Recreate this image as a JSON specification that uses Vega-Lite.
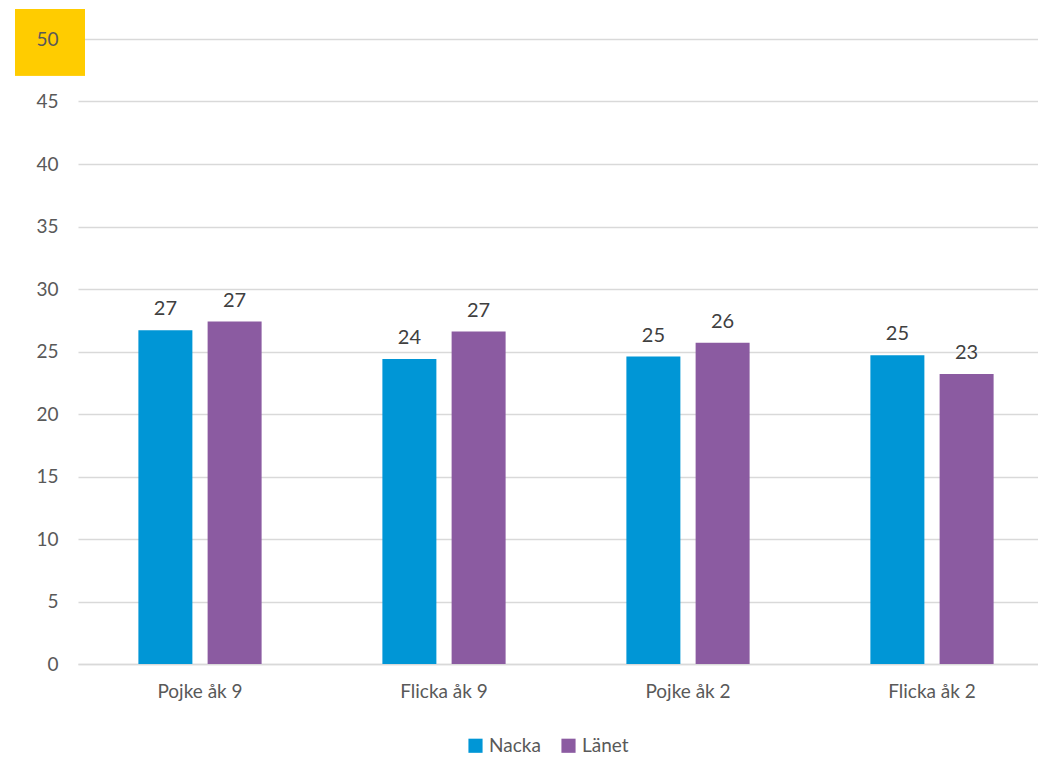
{
  "$schema": "https://vega.github.io/schema/vega-lite/v6.json",
  "width": 976,
  "height": 625,
  "autosize": "none",
  "padding": {"left": 78, "top": 39, "right": -16, "bottom": 95},
  "background": "white",
  "config": {
    "view": {"stroke": null},
    "font": "Lato",
    "axis": {"labelFont": "Lato", "labelFontSize": 19, "labelColor": "#595959", "title": null},
    "legend": {"labelFont": "Lato", "labelFontSize": 19, "labelColor": "#595959"}
  },
  "data": {
    "values": [
      {"grupp": "Pojke åk 9", "serie": "Nacka", "varde": 26.7},
      {"grupp": "Pojke åk 9", "serie": "Länet", "varde": 27.4},
      {"grupp": "Flicka åk 9", "serie": "Nacka", "varde": 24.4},
      {"grupp": "Flicka åk 9", "serie": "Länet", "varde": 26.6},
      {"grupp": "Pojke åk 2", "serie": "Nacka", "varde": 24.6},
      {"grupp": "Pojke åk 2", "serie": "Länet", "varde": 25.7},
      {"grupp": "Flicka åk 2", "serie": "Nacka", "varde": 24.7},
      {"grupp": "Flicka åk 2", "serie": "Länet", "varde": 23.2}
    ]
  },
  "resolve": {"axis": {"y": "independent"}},
  "layer": [
    {
      "mark": {"type": "rect", "color": "#FFCC00", "clip": false},
      "encoding": {
        "y": {"datum": 52.4, "type": "quantitative", "scale": {"domain": [0, 50], "nice": false},
          "axis": {"orient": "left", "grid": false, "ticks": false, "domain": false, "values": [0,5,10,15,20,25,30,35,40,45,50], "labelPadding": 20, "zindex": 1}},
        "y2": {"datum": 47.1},
        "x": {"value": -63},
        "x2": {"value": 7}
      }
    },
    {
      "mark": {"type": "bar"},
      "encoding": {
        "x": {"field": "grupp", "type": "nominal", "sort": null,
          "scale": {"paddingInner": 0.495, "paddingOuter": 0.2475},
          "axis": {"labelAngle": 0, "ticks": false, "domainColor": "#d9d9d9", "domainWidth": 1.5, "labelPadding": 18, "zindex": 0}},
        "xOffset": {"field": "serie", "type": "nominal", "sort": ["Nacka", "Länet"], "scale": {"paddingInner": 0.22, "paddingOuter": 0}},
        "y": {"field": "varde", "type": "quantitative", "scale": {"domain": [0, 50], "nice": false},
          "axis": {"orient": "left", "grid": true, "gridColor": "#d9d9d9", "gridWidth": 1.5, "labels": false, "ticks": false, "domain": false, "values": [0,5,10,15,20,25,30,35,40,45,50], "zindex": 0}},
        "color": {"field": "serie", "type": "nominal", "sort": ["Nacka", "Länet"],
          "scale": {"domain": ["Nacka", "Länet"], "range": ["#0096D6", "#8B5BA1"]},
          "legend": {"orient": "none", "legendX": 388, "legendY": 697, "direction": "horizontal", "title": null, "symbolType": "square", "symbolSize": 200, "symbolStrokeWidth": 0, "labelOffset": 4, "columnPadding": 18}}
      }
    },
    {
      "mark": {"type": "text", "baseline": "bottom", "dy": -11, "fontSize": 20, "color": "#404040", "font": "Lato"},
      "encoding": {
        "x": {"field": "grupp", "type": "nominal", "sort": null},
        "xOffset": {"field": "serie", "type": "nominal", "sort": ["Nacka", "Länet"]},
        "y": {"field": "varde", "type": "quantitative", "axis": null},
        "text": {"field": "varde", "type": "quantitative", "format": ".0f"}
      }
    }
  ]
}
